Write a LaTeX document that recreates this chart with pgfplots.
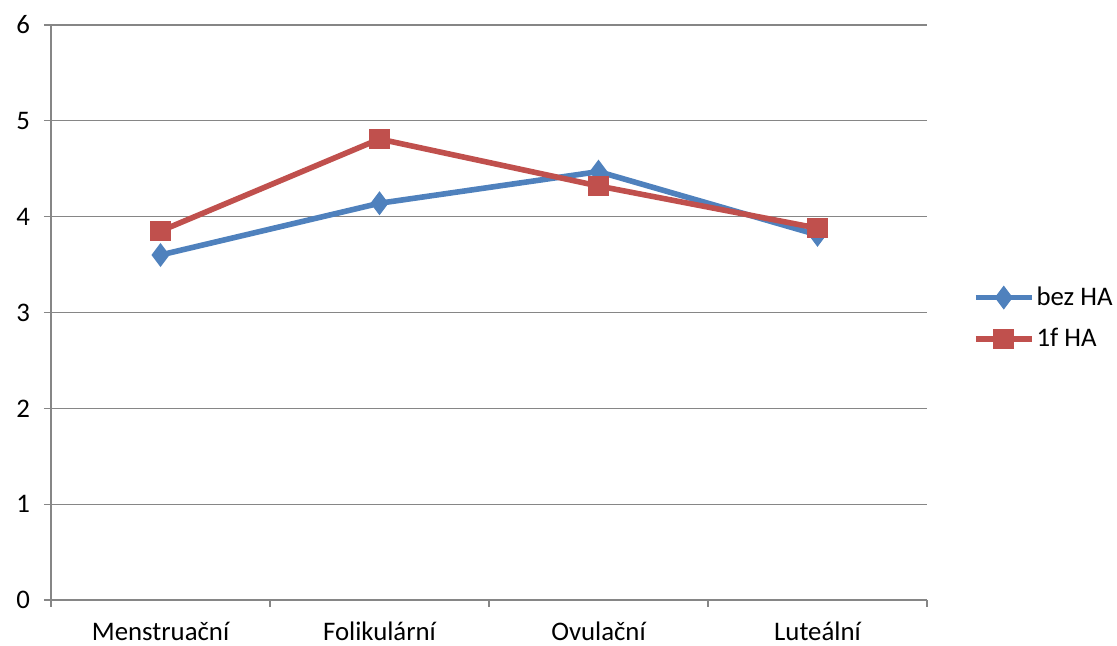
\documentclass[border=0pt]{standalone}
\usepackage{pgfplots}
\pgfplotsset{compat=1.18}
\usepackage{fontspec}
\setmainfont{Carlito}
\definecolor{bluec}{HTML}{4F81BD}
\definecolor{redc}{HTML}{C0504D}
\definecolor{axc}{HTML}{868686}
\begin{document}
\begin{tikzpicture}
\path[use as bounding box] (-25.5pt,-23pt) rectangle (533pt,300pt);
\begin{axis}[
  at={(0,0)}, anchor=south west,
  scale only axis, width=438pt, height=287.5pt,
  xmin=-0.5, xmax=3.5, ymin=0, ymax=6,
  ytick={0,1,2,3,4,5,6},
  xtick={0,1,2,3},
  xticklabels={Menstruační,Folikulární,Ovulační,Luteální},
  minor xtick={-0.5,0.5,1.5,2.5,3.5},
  major x tick style={draw=none},
  minor x tick style={draw=axc, line width=0.6pt},
  minor tick length=3.5pt,
  axis x line*=bottom, axis y line*=left,
  axis line style={draw=axc, line width=0.6pt, -},
  tick align=outside, major tick length=3.5pt,
  ymajorgrids, grid style={draw=axc, line width=0.6pt},
  tick style={draw=axc, line width=0.6pt},
  tick label style={font=\fontsize{13.4}{15}\selectfont, text=black},
  xticklabel style={inner ysep=0.5pt, yshift=-6.8pt},
  yticklabel style={xshift=-3.5pt},
  /pgf/number format/assume math mode=true,
  legend style={at={(1.052,0.49)}, anchor=west, draw=none, fill=none,
    font=\fontsize{13.4}{15}\selectfont, row sep=8pt, inner sep=0pt,
    nodes={inner sep=1pt}},
  legend cell align=left,
  legend image code/.code={
    \draw[#1, mark=none] (0pt,0pt) -- (28pt,0pt);
    \path[#1] plot coordinates {(14pt,0pt)};
  },
  clip=false,
]
\addplot[color=bluec, line width=2.8pt, mark=diamond*, mark size=5.6pt, mark options={line width=0.5pt, fill=bluec}]
  coordinates {(0,3.6) (1,4.14) (2,4.47) (3,3.81)};
\addlegendentry{bez HA}
\addplot[color=redc, line width=2.8pt, mark=square*, mark size=4.9pt, mark options={line width=0.5pt, fill=redc}]
  coordinates {(0,3.85) (1,4.81) (2,4.32) (3,3.88)};
\addlegendentry{1f HA}
\end{axis}
\end{tikzpicture}
\end{document}
